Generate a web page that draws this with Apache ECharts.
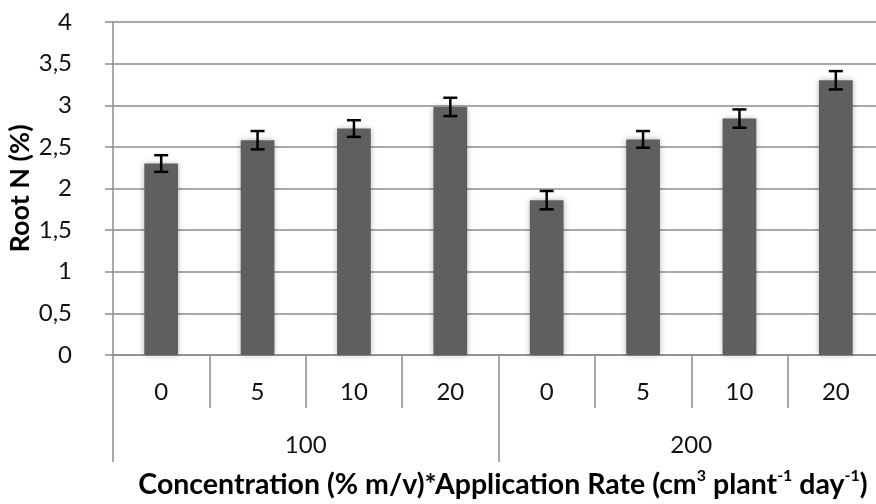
<!DOCTYPE html>
<html>
<head>
<meta charset="utf-8">
<script src="https://cdn.jsdelivr.net/npm/echarts@6/dist/echarts.min.js"></script>
<style>
html,body{margin:0;padding:0;background:#fff;}
#c{width:876px;height:504px;}
</style>
</head>
<body>
<div id="c"></div>
<script>
// ---- data ----
var rates = ['0', '5', '10', '20', '0', '5', '10', '20'];
var concentrations = ['100', '200'];
var rootN = [2.30, 2.58, 2.72, 2.98, 1.86, 2.59, 2.84, 3.30];
var rootNErr = [0.10, 0.11, 0.10, 0.11, 0.11, 0.10, 0.11, 0.11];
var yTicks = [0, 0.5, 1, 1.5, 2, 2.5, 3, 3.5, 4];

var FONT = 'Lato';
var GRID_COL = '#8c8c8c';

var chart = echarts.init(document.getElementById('c'));
var catIdx = rates.map(function (r, i) { return String(i); });

chart.setOption({
  animation: false,
  backgroundColor: '#ffffff',
  grid: { left: 113, right: -8, top: 22, bottom: 149, containLabel: false, outerBoundsMode: 'none' },
  title: {
    text: '{b|Concentration (% m/v)*Application Rate (cm}{s|3}{b| plant}{s|-1}{b| day}{s|-1}{b|)}',
    left: 498, top: 460, textAlign: 'center',
    textStyle: {
      rich: {
        b: { fontFamily: FONT, fontWeight: 'bold', fontSize: 28.5, color: '#000', lineHeight: 34, verticalAlign: 'bottom' },
        s: { fontFamily: FONT, fontWeight: 'bold', fontSize: 16, color: '#000', lineHeight: 34, verticalAlign: 'top', padding: [3, 0, 0, 0] }
      }
    }
  },
  xAxis: [
    {
      type: 'category', data: catIdx, position: 'bottom',
      axisLine: { show: true, lineStyle: { color: GRID_COL, width: 1.5 } },
      axisTick: { show: true, length: 53, lineStyle: { color: GRID_COL, width: 1.5 } },
      axisLabel: {
        margin: 25, fontFamily: FONT, fontSize: 24, color: '#111',
        formatter: function (v, i) { return rates[i]; }
      },
      splitLine: { show: false }
    },
    {
      type: 'category', data: concentrations, position: 'bottom', gridIndex: 0,
      axisLine: { show: false },
      axisTick: { show: true, length: 107, lineStyle: { color: GRID_COL, width: 1.5 } },
      axisLabel: { margin: 78, fontFamily: FONT, fontSize: 24, color: '#111' },
      splitLine: { show: false }
    }
  ],
  yAxis: {
    type: 'value', min: yTicks[0], max: yTicks[yTicks.length - 1], interval: 0.5,
    name: 'Root N (%)', nameLocation: 'middle', nameGap: 79, nameMoveOverlap: false,
    nameTextStyle: { fontFamily: FONT, fontWeight: 'bold', fontSize: 27, color: '#000' },
    axisLine: { show: true, lineStyle: { color: GRID_COL, width: 1.5 } },
    axisTick: { show: true, length: 8, lineStyle: { color: GRID_COL, width: 1.5 } },
    axisLabel: {
      margin: 41, align: 'right', fontFamily: FONT, fontSize: 24, color: '#111',
      formatter: function (v) { return String(v).replace('.', ','); }
    },
    splitLine: { show: true, lineStyle: { color: GRID_COL, width: 1.5 } }
  },
  series: [
    {
      type: 'bar', xAxisIndex: 0, data: rootN, barWidth: '35%',
      itemStyle: {
        color: '#5e5f61',
        shadowBlur: 6, shadowColor: 'rgba(0,0,0,0.28)'
      }
    },
    {
      type: 'custom', xAxisIndex: 0,
      data: rootN.map(function (v, i) { return [i, v - rootNErr[i], v + rootNErr[i]]; }),
      renderItem: function (params, api) {
        var lo = api.coord([api.value(0), api.value(1)]);
        var hi = api.coord([api.value(0), api.value(2)]);
        var hw = 7;
        var st = { stroke: '#000', lineWidth: 2.5 };
        return {
          type: 'group',
          children: [
            { type: 'line', shape: { x1: lo[0], y1: lo[1], x2: hi[0], y2: hi[1] }, style: st },
            { type: 'line', shape: { x1: lo[0] - hw, y1: lo[1], x2: lo[0] + hw, y2: lo[1] }, style: st },
            { type: 'line', shape: { x1: hi[0] - hw, y1: hi[1], x2: hi[0] + hw, y2: hi[1] }, style: st }
          ]
        };
      },
      z: 10
    }
  ]
});
</script>
</body>
</html>
